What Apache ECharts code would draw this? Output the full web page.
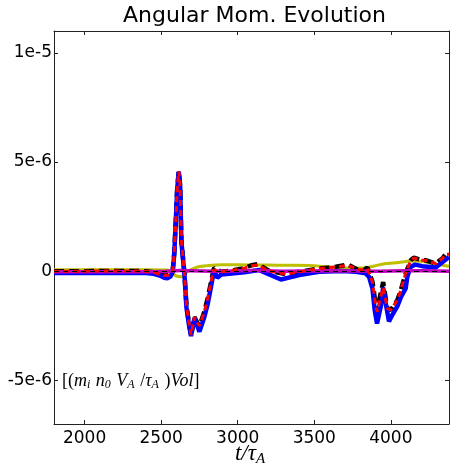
<!DOCTYPE html>
<html>
<head>
<meta charset="utf-8">
<script src="https://cdn.jsdelivr.net/npm/echarts@6/dist/echarts.min.js"></script>
<style>
  html, body { margin: 0; padding: 0; background: #fff; }
  #chart { width: 450px; height: 466px; }
</style>
</head>
<body>
<div id="chart"></div>
<script>
// values are in units of 1e-6
const xTicks = [2000, 2500, 3000, 3500, 4000]
const yTicks = [-5, 0, 5, 10]
const yTickLabels = ['-5e-6', '0', '5e-6', '1e-5']

const mainTimes = [1800, 2000, 2200, 2400, 2450, 2490, 2520, 2550, 2575, 2585, 2595, 2605, 2615, 2624, 2632, 2652,
  2665, 2680, 2695, 2717, 2735, 2750, 2782, 2804, 2826, 2841, 2847, 2891, 2978, 3043, 3090, 3130, 3206, 3315,
  3402, 3532, 3641, 3720, 3782, 3825, 3847, 3880, 3891, 3902, 3912, 3925, 3950, 3977, 4000, 4010, 4043, 4065,
  4097, 4130, 4150, 4205, 4227, 4293, 4336, 4358, 4380]
const redValues = [0.0, 0.0, 0.01, 0.0, -0.05, -0.14, -0.2, -0.18, 0.0, 0.8, 2.2, 3.8, 4.58, 3.9, 1.4, -0.1,
  -1.55, -2.3, -2.92, -2.1, -2.35, -2.5, -1.86, -1.23, -0.49, 0.05, 0.1, -0.03, 0.05, 0.14, 0.25, 0.28, 0.01, -0.14,
  -0.03, 0.12, 0.2, 0.27, 0.08, 0.05, 0.12, -0.49, -1.02, -1.63, -1.86, -1.4, -0.75, -1.7, -1.78, -1.7, -1.32, -0.87,
  -0.1, 0.5, 0.6, 0.5, 0.5, 0.35, 0.58, 0.78, 0.78]
const blackValues = [0.0, 0.0, 0.01, 0.0, -0.05, -0.14, -0.2, -0.18, 0.0, 0.8, 2.2, 3.8, 4.58, 3.9, 1.4, -0.1,
  -1.55, -2.3, -2.95, -2.1, -2.35, -2.5, -1.86, -1.23, -0.49, 0.05, 0.15, -0.03, 0.05, 0.14, 0.27, 0.32, 0.01, -0.14,
  -0.03, 0.12, 0.2, 0.3, 0.08, 0.05, 0.17, -0.49, -1.02, -1.63, -1.86, -1.3, -0.5, -1.7, -1.78, -1.7, -1.32, -0.87,
  -0.1, 0.5, 0.62, 0.5, 0.5, 0.35, 0.58, 0.78, 0.78]

const blueTimes = [1800, 2000, 2200, 2400, 2450, 2490, 2520, 2540, 2560, 2575, 2585, 2595, 2605, 2615, 2624, 2632,
  2652, 2665, 2680, 2695, 2717, 2735, 2750, 2782, 2804, 2826, 2841, 2847, 2867, 2893, 2978, 3043, 3141, 3282,
  3402, 3532, 3682, 3771, 3836, 3858, 3880, 3895, 3910, 3920, 3935, 3950, 3970, 3988, 4010, 4043, 4065, 4097,
  4108, 4130, 4160, 4205, 4293, 4347, 4380]
const blueValues = [-0.08, -0.08, -0.07, -0.08, -0.12, -0.2, -0.3, -0.33, -0.25, -0.05, 0.75, 2.2, 3.8, 4.55, 3.9, 1.35,
  -0.15, -1.65, -2.4, -2.97, -2.15, -2.5, -2.77, -2.1, -1.5, -0.7, -0.1, 0.0, -0.3, -0.15, -0.1, -0.05, 0.05, -0.38,
  -0.18, -0.03, 0.01, -0.03, -0.1, -0.26, -0.8, -1.8, -2.4, -2.47, -1.6, -0.75, -1.6, -2.3, -2.0, -1.6, -1.2, -0.79,
  -0.25, 0.2, 0.3, 0.23, 0.17, 0.47, 0.65]

const oliveTimes = [1800, 2000, 2200, 2400, 2540, 2555, 2575, 2600, 2637, 2665, 2698, 2737, 2782, 2850, 2900,
  3000, 3200, 3300, 3500, 3650, 3800, 3850, 3900, 3950, 4050, 4130, 4200, 4230, 4300, 4380]
const oliveValues = [0.06, 0.06, 0.06, 0.06, 0.05, 0.0, -0.1, -0.22, -0.26, -0.05, 0.08, 0.19, 0.24, 0.28, 0.29,
  0.29, 0.28, 0.27, 0.25, 0.15, 0.14, 0.17, 0.25, 0.33, 0.4, 0.46, 0.45, 0.42, 0.32, 0.23]

const magentaTimes = [1800, 2200, 2500, 2620, 2700, 2900, 3100, 3300, 3600, 3900, 4100, 4380]
const magentaValues = [-0.03, -0.03, -0.02, 0.03, 0.02, 0.0, 0.03, 0.0, 0.02, 0.0, 0.02, 0.0]

const zip = (ts, vs) => ts.map((t, i) => [t, vs[i]])

const chart = echarts.init(document.getElementById('chart'), null, { renderer: 'canvas' })

const tickFont = { fontFamily: 'DejaVu Sans', fontSize: 17, color: '#000' }
const axisLine = { show: true, onZero: false, lineStyle: { color: '#222', width: 1 } }
const mathFont = 'Liberation Serif'

const option = {
  animation: false,
  title: {
    text: 'Angular Mom. Evolution',
    left: 118,
    top: 0,
    textStyle: { fontFamily: 'DejaVu Sans', fontSize: 22, fontWeight: 'normal', color: '#000' }
  },
  grid: { left: 54, right: 1, top: 31, bottom: 42, outerBoundsMode: 'none' },
  xAxis: [
    {
      type: 'value', min: 1800, max: 4380,
      axisLine: axisLine,
      axisTick: { inside: true, length: 4, customValues: xTicks, lineStyle: { color: '#222' } },
      axisLabel: { customValues: xTicks, margin: 6, formatter: v => String(v), ...tickFont },
      splitLine: { show: false }
    },
    {
      type: 'value', min: 1800, max: 4380, position: 'top',
      axisLine: axisLine,
      axisTick: { inside: true, length: 4, customValues: xTicks, lineStyle: { color: '#222' } },
      axisLabel: { show: false },
      splitLine: { show: false }
    }
  ],
  yAxis: [
    {
      type: 'value', min: -7, max: 11,
      axisLine: axisLine,
      axisTick: { inside: true, length: 4, customValues: yTicks, lineStyle: { color: '#222' } },
      axisLabel: {
        customValues: yTicks, margin: 2, ...tickFont,
        formatter: v => yTickLabels[yTicks.indexOf(v)]
      },
      splitLine: { show: false }
    },
    {
      type: 'value', min: -7, max: 11, position: 'right',
      axisLine: axisLine,
      axisTick: { inside: true, length: 4, customValues: yTicks, lineStyle: { color: '#222' } },
      axisLabel: { show: false },
      splitLine: { show: false }
    }
  ],
  series: [
    {
      name: 'olive', type: 'line', data: zip(oliveTimes, oliveValues), showSymbol: false, smooth: 0.3,
      lineStyle: { color: '#bfbf00', width: 3 }, z: 2
    },
    {
      name: 'black', type: 'line', data: zip(mainTimes, blackValues), showSymbol: false,
      lineStyle: { color: '#000', width: 4.5, type: [10, 5] }, z: 3
    },
    {
      name: 'blue', type: 'line', data: zip(blueTimes, blueValues), showSymbol: false,
      lineStyle: { color: '#0000ff', width: 4.5 }, z: 4
    },
    {
      name: 'magenta', type: 'line', data: zip(magentaTimes, magentaValues), showSymbol: false, smooth: 0.3,
      lineStyle: { color: '#bf00bf', width: 3.5 }, z: 5
    },
    {
      name: 'red', type: 'line', data: zip(mainTimes, redValues), showSymbol: false,
      lineStyle: { color: '#ff0000', width: 3, type: [6, 4] }, z: 6,
      markLine: {
        silent: true, symbol: 'none', label: { show: false }, z: 7,
        lineStyle: { color: '#000', width: 1.2, type: [5, 4] },
        data: [{ yAxis: 0 }]
      }
    }
  ],
  graphic: [
    {
      type: 'text', x: 250, y: 454, z: 10,
      style: {
        text: '{a|t/τ}{b|A}',
        align: 'center', verticalAlign: 'middle',
        rich: {
          a: { fontFamily: mathFont, fontStyle: 'italic', fontSize: 23, fill: '#000' },
          b: { fontFamily: mathFont, fontStyle: 'italic', fontSize: 15, fill: '#000', padding: [10, 0, 0, 0] }
        }
      }
    },
    {
      type: 'text', left: 62, top: 372, z: 10,
      style: {
        text: '{n|[(}{i|m}{s|i}{i| n}{s|0}{i| V}{s|A}{n| /}{i|τ}{s|A}{n| )}{i|Vol}{n|]}',
        rich: {
          n: { fontFamily: mathFont, fontSize: 18, fill: '#000' },
          i: { fontFamily: mathFont, fontStyle: 'italic', fontSize: 18, fill: '#000' },
          s: { fontFamily: mathFont, fontStyle: 'italic', fontSize: 12, fill: '#000', padding: [8, 1, 0, 0] }
        }
      }
    }
  ]
}

chart.setOption(option)
</script>
</body>
</html>
